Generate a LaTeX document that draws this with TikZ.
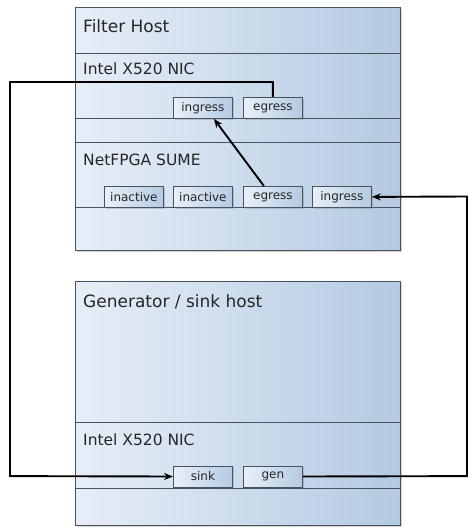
\documentclass[tikz,border=0pt]{standalone}
\usepackage{fontspec}
\setmainfont{DejaVu Sans}
\usetikzlibrary{arrows.meta,shadows}
\definecolor{boxL}{HTML}{E6EEF7}
\definecolor{boxR}{HTML}{B4CAE2}
\definecolor{edge}{HTML}{4A525C}
\tikzset{
  panel/.style={draw=edge, line width=0.8pt, left color=boxL, right color=boxR, inner sep=0pt, anchor=north west,
    drop shadow={shadow xshift=1.5pt, shadow yshift=-1.5pt, opacity=0.35}},
  section/.style={draw=edge, line width=0.8pt, left color=boxL, right color=boxR, inner sep=0pt, anchor=north west},
  port/.style={draw=edge, line width=0.8pt, left color=boxL!90!white, right color=boxR, inner sep=0pt, anchor=north west,
    minimum width=59pt, minimum height=21pt, font=\fontsize{12}{14}\selectfont, text=black!85,
    drop shadow={shadow xshift=1.2pt, shadow yshift=-1.2pt, opacity=0.35}},
  titletext/.style={anchor=base west, inner sep=0pt, font=\fontsize{17}{20}\selectfont, text=black!85},
  labeltext/.style={anchor=base west, inner sep=0pt, font=\fontsize{15.5}{18}\selectfont, text=black!85},
  conn/.style={line width=1.9pt, black},
  tip/.style={-{Stealth[length=9pt,width=7pt]}}
}
\begin{document}
\begin{tikzpicture}[x=1pt,y=-1pt]
\useasboundingbox (0,0) rectangle (474,532);
% Filter host
\node[panel, minimum width=325pt, minimum height=243pt] (fh) at (75,7) {};
\node[titletext] (fht) at (83,33) {Filter Host};
\node[section, minimum width=325pt, minimum height=65pt] (fnic) at (75,53) {};
\node[labeltext] (fnict) at (83,75) {Intel X520 NIC};
\node[port] (fi) at (173,97) {ingress};
\node[port] (fe) at (243,97) {egress};
\node[section, minimum width=325pt, minimum height=65pt] (sume) at (75,142) {};
\node[labeltext] (sumet) at (83,165) {NetFPGA SUME};
\node[port] (na1) at (104,186) {inactive};
\node[port] (na2) at (173,186) {inactive};
\node[port] (ne) at (243,186) {egress};
\node[port] (ni) at (312,186) {ingress};
% Generator host
\node[panel, minimum width=325pt, minimum height=244pt] (gh) at (75,281) {};
\node[titletext] (ght) at (83,307) {Generator / sink host};
\node[section, minimum width=325pt, minimum height=66pt] (gnic) at (75,422) {};
\node[labeltext] (gnict) at (83,445) {Intel X520 NIC};
\node[port] (sink) at (173,465.6) {sink};
\node[port] (gen) at (243,465.6) {gen};
% connectors
\coordinate (la) at (10,82);
\coordinate (lb) at (10,476.1);
\coordinate (ra) at (467,476.1);
\coordinate (rb) at (467,196.5);
\draw[conn, tip] (fe.north) |- (la) -- (lb) -- (sink.west);
\draw[conn, tip] (gen.east) -- (ra) -- (rb) -- (ni.east);
\draw[conn, tip] ([xshift=-9pt]ne.north) -- ([xshift=11pt]fi.south);
\end{tikzpicture}
\end{document}
